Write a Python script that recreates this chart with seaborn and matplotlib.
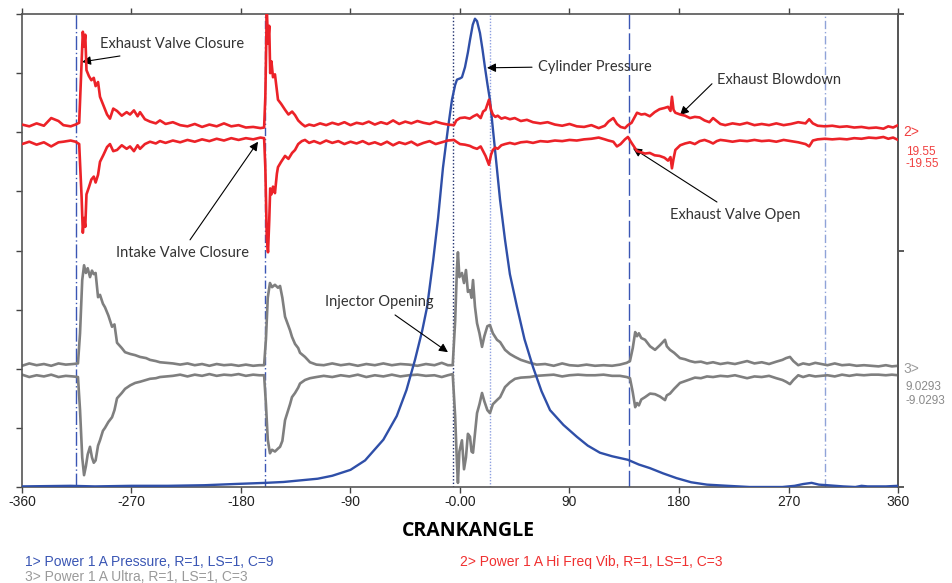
import seaborn as sns
import matplotlib.pyplot as plt
import matplotlib.transforms as mtransforms

sns.set_theme(style="white")
plt.rcParams['font.family'] = ['Liberation Sans', 'DejaVu Sans']

# ---- data (crank angle in degrees, traces on a 0..8 display scale) ----
pressure_angle = [-360, -320, -300, -270, -240, -210, -186, -160, -145, -117,
                  -105, -90, -78, -63, -52, -44, -37, -31, -27, -22,
                  -18, -14, -10, -6.6, -4, -2.5, 0, 1.6, 4.1, 6.5,
                  8.2, 10.5, 12.3, 14, 16.4, 18.5, 20.5, 22.5, 24.6, 28.8,
                  32.9, 37, 41, 46.8, 53, 60, 67, 74, 85, 96,
                  105, 115, 125, 138, 147, 156, 167, 178, 190, 203,
                  220, 238, 265, 275, 282, 289, 295, 302, 315, 325,
                  330, 335, 350, 360]
pressure = [0.01, 0.02, 0.01, 0.02, 0.02, 0.03, 0.05, 0.07, 0.085, 0.14,
            0.19, 0.29, 0.45, 0.80, 1.20, 1.64, 2.15, 2.65, 3.05, 3.84,
            4.55, 5.40, 6.05, 6.55, 6.80, 6.89, 6.91, 6.93, 7.10, 7.35,
            7.56, 7.82, 7.92, 7.88, 7.68, 7.40, 7.10, 6.82, 6.55, 5.70,
            4.86, 4.18, 3.60, 3.05, 2.50, 2.03, 1.62, 1.30, 1.05, 0.85,
            0.70, 0.58, 0.52, 0.46, 0.38, 0.32, 0.23, 0.15, 0.08, 0.04,
            0.02, 0.00, 0.00, 0.02, 0.05, 0.07, 0.04, 0.03, 0.01, 0.00,
            0.02, 0.01, 0.01, 0.02]

vib_angle = [-360, -354, -348, -342, -336, -330, -326, -320, -316, -313,
             -311, -310, -309, -308, -307, -305, -303, -301, -299.5, -297.5,
             -295.9, -293, -290.1, -287.7, -285, -281.9, -278, -274, -271.2, -268,
             -265, -263, -259, -254.8, -250, -246.6, -242, -236, -230, -224,
             -218, -212, -206, -200, -194, -188, -182, -176, -170, -164,
             -161, -160, -158.8, -157.8, -156.8, -156, -155, -153.7, -152.1, -150.5,
             -149.6, -147, -143.8, -141, -138, -135.6, -133, -130, -127.4, -124,
             -120, -115, -110, -105, -100, -95, -90, -85, -80, -75,
             -70, -65, -60, -55, -50, -45, -40, -35, -30, -25,
             -20, -15, -10, -5, -3, 0, 4, 8, 11, 14,
             17, 19, 21, 23.8, 25.5, 27, 29, 31, 34, 37,
             41, 45, 50, 55, 60, 66, 72, 78, 84, 90,
             96, 102, 108, 114, 119, 122, 126, 129, 132, 135.6,
             138, 141, 145.5, 149, 152, 156, 160, 164, 168, 171,
             173, 174.2, 175.5, 177, 181, 185, 189, 193, 197, 201,
             205, 208, 211, 214, 218, 224, 230, 236, 242, 248,
             254, 260, 266, 272, 278, 284, 287, 290, 294, 300,
             306, 312, 318, 324, 330, 336, 342, 348, 352, 356,
             360]
vib_upper = [6.13, 6.10, 6.15, 6.11, 6.24, 6.19, 6.12, 6.10, 6.13, 6.16,
             7.20, 7.70, 7.45, 7.65, 7.05, 6.95, 6.88, 6.92, 6.78, 6.85,
             6.60, 6.45, 6.30, 6.23, 6.40, 6.36, 6.28, 6.34, 6.30, 6.37,
             6.27, 6.34, 6.22, 6.18, 6.15, 6.20, 6.14, 6.17, 6.12, 6.10,
             6.14, 6.09, 6.13, 6.10, 6.15, 6.10, 6.12, 6.08, 6.09, 6.07,
             6.08, 6.60, 8.10, 7.50, 7.80, 7.00, 7.20, 6.93, 6.98, 6.70,
             6.55, 6.48, 6.38, 6.30, 6.35, 6.29, 6.20, 6.14, 6.10, 6.13,
             6.11, 6.15, 6.12, 6.16, 6.13, 6.17, 6.12, 6.16, 6.14, 6.18,
             6.13, 6.17, 6.14, 6.20, 6.14, 6.18, 6.15, 6.19, 6.16, 6.14,
             6.18, 6.15, 6.13, 6.12, 6.20, 6.24, 6.25, 6.23, 6.27, 6.30,
             6.24, 6.35, 6.38, 6.55, 6.38, 6.30, 6.26, 6.28, 6.23, 6.25,
             6.22, 6.24, 6.19, 6.21, 6.17, 6.15, 6.17, 6.13, 6.11, 6.14,
             6.10, 6.09, 6.12, 6.07, 6.11, 6.18, 6.24, 6.14, 6.09, 6.07,
             6.12, 6.16, 6.33, 6.30, 6.31, 6.27, 6.34, 6.39, 6.41, 6.43,
             6.36, 6.60, 6.38, 6.33, 6.30, 6.28, 6.24, 6.26, 6.25, 6.20,
             6.17, 6.24, 6.19, 6.14, 6.12, 6.15, 6.13, 6.16, 6.12, 6.14,
             6.12, 6.15, 6.12, 6.14, 6.17, 6.15, 6.22, 6.15, 6.11, 6.10,
             6.11, 6.09, 6.10, 6.08, 6.09, 6.07, 6.08, 6.06, 6.10, 6.08,
             6.12]
vib_lower = [5.80, 5.84, 5.79, 5.83, 5.76, 5.83, 5.84, 5.86, 5.84, 5.80,
             4.90, 4.30, 4.55, 4.40, 4.95, 5.07, 5.20, 5.25, 5.15, 5.28,
             5.50, 5.62, 5.75, 5.80, 5.68, 5.70, 5.78, 5.72, 5.76, 5.68,
             5.78, 5.72, 5.80, 5.84, 5.81, 5.85, 5.82, 5.86, 5.83, 5.87,
             5.84, 5.88, 5.85, 5.89, 5.86, 5.90, 5.87, 5.90, 5.88, 5.91,
             5.90, 5.40, 4.20, 3.97, 4.50, 5.05, 4.95, 5.08, 4.97, 5.30,
             5.41, 5.50, 5.60, 5.55, 5.65, 5.70, 5.80, 5.85, 5.87, 5.82,
             5.85, 5.81, 5.86, 5.82, 5.85, 5.80, 5.84, 5.81, 5.85, 5.80,
             5.83, 5.79, 5.84, 5.78, 5.83, 5.80, 5.84, 5.78, 5.82, 5.85,
             5.80, 5.83, 5.86, 5.87, 5.84, 5.80, 5.79, 5.77, 5.74, 5.72,
             5.76, 5.68, 5.60, 5.45, 5.62, 5.70, 5.74, 5.72, 5.78, 5.80,
             5.82, 5.80, 5.83, 5.84, 5.82, 5.85, 5.84, 5.86, 5.85, 5.87,
             5.86, 5.88, 5.89, 5.91, 5.88, 5.86, 5.84, 5.76, 5.80, 5.88,
             5.92, 5.82, 5.68, 5.66, 5.64, 5.65, 5.61, 5.60, 5.57, 5.52,
             5.58, 5.39, 5.55, 5.70, 5.78, 5.81, 5.83, 5.80, 5.85, 5.87,
             5.84, 5.81, 5.85, 5.87, 5.86, 5.84, 5.86, 5.85, 5.87, 5.85,
             5.86, 5.84, 5.87, 5.85, 5.83, 5.80, 5.76, 5.86, 5.88, 5.89,
             5.88, 5.89, 5.88, 5.90, 5.89, 5.91, 5.90, 5.92, 5.89, 5.91,
             5.87]

ultra_angle = [-360, -354, -348, -342, -336, -330, -324, -318, -314, -312.3,
               -310.5, -309, -307.5, -306, -304.1, -302.5, -301, -299.5, -297.5, -295.9,
               -293.5, -291.8, -289, -286, -284, -281.9, -278, -275.3, -271, -267,
               -263, -258, -254.8, -250, -246.6, -241, -236, -230, -224, -218,
               -212, -206, -200, -194, -188, -182, -176, -170, -165, -161,
               -159.5, -158, -156.2, -154.5, -152.1, -149.6, -147.9, -146, -143.8, -141.5,
               -139.7, -138.1, -135.6, -133, -131.5, -127.4, -123.3, -118, -112, -105,
               -98, -91, -84, -77, -70, -63, -56, -49, -42, -35,
               -28, -21, -15, -10, -6, -4, -2.5, -1.7, -0.5, 1.6,
               3.3, 4.9, 6.5, 8.2, 9.5, 10.7, 12.3, 14, 16, 18.1,
               20, 22.5, 24.6, 27, 30.4, 33, 37, 41, 45.2, 50,
               57.5, 63, 70, 77, 84, 90, 97, 104, 111, 118,
               125, 131.5, 137, 139.7, 142, 144, 145.5, 147, 149, 152.1,
               156.2, 160.3, 164.4, 168.5, 170, 172.6, 176, 180.8, 185, 189,
               193.1, 198, 203, 208, 214, 220, 226, 232, 236, 242,
               248, 254, 260, 265, 268, 271.2, 274, 278, 282, 287,
               292, 297, 302, 308, 314, 320, 326, 332, 338, 344,
               350, 355, 360]
ultra_upper = [2.05, 2.09, 2.06, 2.08, 2.05, 2.09, 2.07, 2.08, 2.09, 2.60,
               3.50, 3.75, 3.62, 3.70, 3.55, 3.66, 3.60, 3.62, 3.21, 3.25,
               3.10, 3.04, 2.90, 2.71, 2.75, 2.44, 2.35, 2.28, 2.25, 2.23,
               2.20, 2.18, 2.15, 2.13, 2.11, 2.10, 2.09, 2.07, 2.09, 2.06,
               2.08, 2.05, 2.08, 2.06, 2.07, 2.05, 2.07, 2.05, 2.06, 2.06,
               2.50, 3.20, 3.45, 3.38, 3.42, 3.37, 3.40, 3.20, 2.88, 2.75,
               2.65, 2.54, 2.42, 2.35, 2.27, 2.20, 2.11, 2.07, 2.06, 2.09,
               2.06, 2.08, 2.05, 2.08, 2.06, 2.09, 2.06, 2.08, 2.07, 2.05,
               2.08, 2.06, 2.10, 2.06, 2.06, 2.80, 3.70, 3.97, 3.55, 3.62,
               3.45, 3.67, 3.30, 3.33, 3.20, 3.50, 3.05, 2.77, 2.60, 2.37,
               2.55, 2.72, 2.74, 2.60, 2.49, 2.45, 2.32, 2.25, 2.20, 2.15,
               2.10, 2.07, 2.08, 2.05, 2.09, 2.06, 2.05, 2.07, 2.05, 2.06,
               2.05, 2.07, 2.10, 2.13, 2.35, 2.62, 2.55, 2.60, 2.52, 2.49,
               2.38, 2.32, 2.40, 2.49, 2.38, 2.32, 2.27, 2.18, 2.16, 2.13,
               2.11, 2.12, 2.09, 2.11, 2.08, 2.10, 2.08, 2.11, 2.13, 2.09,
               2.11, 2.08, 2.12, 2.15, 2.18, 2.20, 2.13, 2.06, 2.09, 2.07,
               2.10, 2.08, 2.06, 2.09, 2.06, 2.07, 2.05, 2.06, 2.05, 2.04,
               2.06, 2.04, 2.05]
ultra_lower = [1.90, 1.86, 1.89, 1.87, 1.90, 1.86, 1.88, 1.87, 1.86, 1.30,
               0.50, 0.20, 0.35, 0.55, 0.68, 0.50, 0.41, 0.45, 0.70, 0.79,
               0.95, 1.00, 1.10, 1.18, 1.30, 1.50, 1.59, 1.66, 1.72, 1.76,
               1.78, 1.81, 1.83, 1.84, 1.86, 1.87, 1.88, 1.90, 1.87, 1.90,
               1.88, 1.91, 1.88, 1.90, 1.89, 1.91, 1.88, 1.90, 1.89, 1.89,
               1.40, 0.80, 0.57, 0.63, 0.60, 0.65, 0.68, 0.78, 1.13, 1.28,
               1.40, 1.52, 1.59, 1.68, 1.75, 1.81, 1.84, 1.86, 1.88, 1.86,
               1.89, 1.87, 1.90, 1.86, 1.89, 1.87, 1.90, 1.87, 1.89, 1.90,
               1.88, 1.89, 1.86, 1.89, 1.91, 1.20, 0.40, 0.07, 0.60, 0.79,
               0.30, 0.50, 0.90, 0.85, 0.60, 0.58, 0.90, 1.25, 1.40, 1.59,
               1.45, 1.30, 1.25, 1.40, 1.47, 1.52, 1.69, 1.77, 1.83, 1.85,
               1.86, 1.88, 1.89, 1.90, 1.87, 1.89, 1.90, 1.89, 1.89, 1.90,
               1.88, 1.88, 1.86, 1.84, 1.60, 1.35, 1.42, 1.38, 1.48, 1.52,
               1.58, 1.57, 1.53, 1.47, 1.55, 1.58, 1.66, 1.76, 1.79, 1.82,
               1.85, 1.84, 1.87, 1.86, 1.88, 1.87, 1.89, 1.86, 1.84, 1.87,
               1.86, 1.88, 1.84, 1.81, 1.78, 1.74, 1.81, 1.89, 1.86, 1.89,
               1.87, 1.88, 1.89, 1.87, 1.90, 1.88, 1.90, 1.89, 1.90, 1.90,
               1.89, 1.90, 1.89]

x_ticks = [-360, -270, -180, -90, 0, 90, 180, 270, 360]
x_tick_labels = ["-360", "-270", "-180", "-90", "-0.00", "90", "180", "270", "360"]

# event markers: (angle, colour, dash pattern)
markers = [(-315.5, "#3a56b4", (10, 2, 1, 2)),
           (-160.3, "#3a56b4", (6, 2, 1, 2)),
           (-5.8, "#1f2f6e", (1, 1.5)),
           (24.6, "#8d9fe0", (1, 1.2)),
           (139.0, "#3a56b4", (12, 3)),
           (300.0, "#8fa3d8", (6, 2, 1, 2))]

BLUE = "#2f4fa8"
RED = "#ec2228"
GREY = "#7f7f7f"

fig = plt.figure(figsize=(9.53, 5.83), dpi=100)
ax = fig.add_axes([22 / 953, 1 - 487 / 583, 876 / 953, 473 / 583])

for xv, col, dash in markers:
    ax.axvline(xv, color=col, lw=1.0, dashes=dash, zorder=1)

sns.lineplot(x=ultra_angle, y=ultra_upper, ax=ax, color=GREY, lw=1.9, zorder=2)
sns.lineplot(x=ultra_angle, y=ultra_lower, ax=ax, color=GREY, lw=1.9, zorder=2)
sns.lineplot(x=pressure_angle, y=pressure, ax=ax, color=BLUE, lw=1.7, zorder=3)
sns.lineplot(x=vib_angle, y=vib_upper, ax=ax, color=RED, lw=1.9, zorder=4)
sns.lineplot(x=vib_angle, y=vib_lower, ax=ax, color=RED, lw=1.9, zorder=4)

ax.set_xlim(-360, 360)
ax.set_ylim(0, 8)
ax.set_xticks(x_ticks)
ax.set_xticklabels(x_tick_labels, fontsize=10, color="#222222")
ax.set_yticks(range(0, 9))
ax.set_yticklabels([])
ax.set_xlabel("")
ax.set_ylabel("")
ax.tick_params(axis="both", direction="out", length=4, width=1, color="#444444",
               top=True, left=True, bottom=True, pad=2)
for s in ax.spines.values():
    s.set_color("#555555")
    s.set_linewidth(1.2)

sec = ax.secondary_yaxis("right")
sec.set_yticks([0, 4, 8])
sec.set_yticklabels([])
sec.tick_params(direction="out", length=4, color="#444444")
sec.spines["right"].set_color("#555555")

# scale labels at the right edge
tr = mtransforms.blended_transform_factory(ax.transAxes, ax.transData)
ax.text(1.006, 6.0, "2>", color="#f04040", fontsize=10, va="center", transform=tr, clip_on=False)
ax.text(1.009, 5.67, "19.55", color="#f04040", fontsize=8.5, va="center", transform=tr, clip_on=False)
ax.text(1.009, 5.46, "-19.55", color="#f04040", fontsize=8.5, va="center", transform=tr, clip_on=False)
ax.text(1.006, 1.99, "3>", color="#9a9a9a", fontsize=10, va="center", transform=tr, clip_on=False)
ax.text(1.009, 1.69, "9.0293", color="#8a8a8a", fontsize=8.5, va="center", transform=tr, clip_on=False)
ax.text(1.009, 1.46, "-9.0293", color="#8a8a8a", fontsize=8.5, va="center", transform=tr, clip_on=False)

# annotations
ann_font = dict(family=["Lato", "DejaVu Sans"], fontsize=10.5, color="#333333")
arrow = dict(arrowstyle="-|>", color="black", lw=0.8, mutation_scale=13, shrinkA=0, shrinkB=0)
ax.text(-295.9, 7.49, "Exhaust Valve Closure", va="center", **ann_font)
ax.annotate("", xy=(-310.7, 7.19), xytext=(-279.5, 7.29), arrowprops=arrow)
ax.text(-282.7, 3.96, "Intake Valve Closure", va="center", **ann_font)
ax.annotate("", xy=(-166.0, 5.84), xytext=(-221.9, 4.18), arrowprops=arrow)
ax.text(64.1, 7.10, "Cylinder Pressure", va="center", **ann_font)
ax.annotate("", xy=(22.2, 7.09), xytext=(59.2, 7.10), arrowprops=arrow)
ax.text(211.2, 6.88, "Exhaust Blowdown", va="center", **ann_font)
ax.annotate("", xy=(180.8, 6.29), xytext=(207.1, 6.82), arrowprops=arrow)
ax.text(172.6, 4.60, "Exhaust Valve Open", va="center", **ann_font)
ax.annotate("", xy=(142.2, 5.73), xytext=(211.2, 4.82), arrowprops=arrow)
ax.text(-110.9, 3.13, "Injector Opening", va="center", **ann_font)
ax.annotate("", xy=(-9.9, 2.28), xytext=(-53.4, 2.91), arrowprops=arrow)

fig.text(468 / 953, 1 - 531 / 583, "CRANKANGLE", ha="center", va="center",
         fontsize=14, fontweight="bold", family=["Open Sans", "DejaVu Sans"], color="black")
fig.text(25 / 953, 1 - 562 / 583, "1> Power 1 A Pressure, R=1, LS=1, C=9",
         color="#3a56b4", fontsize=10, va="center")
fig.text(460 / 953, 1 - 562 / 583, "2> Power 1 A Hi Freq Vib, R=1, LS=1, C=3",
         color="#f03030", fontsize=10, va="center")
fig.text(25 / 953, 1 - 577 / 583, "3> Power 1 A Ultra, R=1, LS=1, C=3",
         color="#9a9a9a", fontsize=10, va="center")

fig.savefig("out.png", dpi=100)
